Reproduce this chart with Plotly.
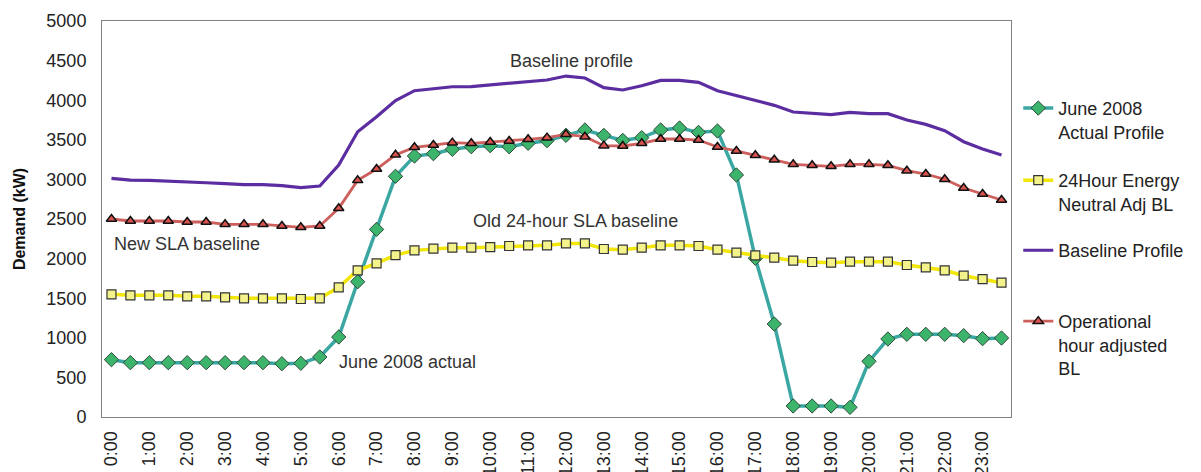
import plotly.graph_objects as go

# half-hour slots 0:00 .. 23:30
time_labels = [f"{h}:{m:02d}" for h in range(24) for m in (0, 30)]
hour_labels = [f"{h}:00" for h in range(24)]

june_2008_actual = [
    724, 686, 686, 686, 686, 686, 686, 686, 686, 673, 678, 758,
    1010, 1708, 2369, 3039, 3295, 3325, 3380, 3413, 3426, 3413, 3456, 3489,
    3556, 3624, 3556, 3493, 3527, 3624, 3649, 3594, 3611, 3056, 2004, 1174,
    139, 139, 139, 122, 703, 985, 1044, 1044, 1044, 1027, 989, 997,
]

energy_neutral_bl = [
    1549, 1536, 1536, 1536, 1524, 1524, 1511, 1498, 1498, 1498, 1490, 1498,
    1637, 1852, 1940, 2045, 2104, 2125, 2138, 2138, 2146, 2159, 2167, 2167,
    2192, 2192, 2121, 2113, 2138, 2167, 2167, 2159, 2113, 2075, 2041, 2012,
    1974, 1957, 1948, 1961, 1961, 1961, 1919, 1890, 1852, 1784, 1742, 1696,
]

baseline_profile = [
    3014, 2992, 2988, 2980, 2976, 2958, 2946, 2933, 2933, 2921, 2896, 2917,
    3182, 3602, 3792, 3995, 4120, 4150, 4170, 4172, 4192, 4213, 4230, 4255,
    4305, 4280, 4158, 4129, 4183, 4250, 4250, 4226, 4120, 4057, 4000, 3935,
    3851, 3830, 3817, 3847, 3830, 3830, 3750, 3695, 3615, 3476, 3384, 3308,
]

operational_bl = [
    2500, 2475, 2475, 2475, 2462, 2462, 2433, 2433, 2433, 2412, 2395, 2412,
    2635, 2988, 3131, 3310, 3405, 3434, 3464, 3456, 3472, 3485, 3506, 3527,
    3569, 3539, 3426, 3422, 3456, 3510, 3510, 3497, 3409, 3359, 3304, 3249,
    3190, 3178, 3165, 3190, 3190, 3178, 3110, 3068, 3001, 2891, 2816, 2740,
]

x = list(range(len(time_labels)))
FONT = "Liberation Sans, Arial, sans-serif"

fig = go.Figure()

fig.add_trace(go.Scatter(
    x=x, y=june_2008_actual, mode="lines+markers",
    name="June 2008<br>Actual Profile", legend="legend",
    line=dict(color="#3BA7A2", width=3.5),
    marker=dict(symbol="diamond", size=11, color="#3DB46C",
                line=dict(color="#2E4A3A", width=1)),
))
fig.add_trace(go.Scatter(
    x=x, y=energy_neutral_bl, mode="lines+markers",
    name="24Hour Energy<br>Neutral Adj BL", legend="legend2",
    line=dict(color="#F2E60A", width=3.5),
    marker=dict(symbol="square", size=9, color="#F4F28A",
                line=dict(color="#333333", width=1.2)),
))
fig.add_trace(go.Scatter(
    x=x, y=baseline_profile, mode="lines",
    name="Baseline Profile", legend="legend3",
    line=dict(color="#5B2DA0", width=3.2),
))
fig.add_trace(go.Scatter(
    x=x, y=operational_bl, mode="lines+markers",
    name="Operational<br>hour adjusted<br>BL", legend="legend4",
    line=dict(color="#CD5F5C", width=2.8),
    marker=dict(symbol="triangle-up", size=9, color="#D9534F",
                line=dict(color="#111111", width=1.5)),
))

annotations = [
    dict(text="Baseline profile", x=24.3, y=4495, xanchor="center"),
    dict(text="Old 24-hour SLA baseline", x=24.5, y=2470, xanchor="center"),
    dict(text="New SLA baseline", x=0.05, y=2190, xanchor="left"),
    dict(text="June 2008 actual", x=11.9, y=700, xanchor="left"),
]
for a in annotations:
    fig.add_annotation(xref="x", yref="y", showarrow=False, yanchor="middle",
                       font=dict(family=FONT, size=18, color="#333333"), **a)


def legend_box(ypos):
    return dict(x=1.008, y=ypos, xanchor="left", yanchor="top",
                valign="top", itemwidth=30, bgcolor="rgba(0,0,0,0)",
                font=dict(family=FONT, size=18, color="#222222"))


# the page body adds an 8px margin, so the figure is drawn 8px smaller
fig.update_layout(
    width=1193, height=464,
    margin=dict(l=94, r=177, t=13, b=55),
    paper_bgcolor="white", plot_bgcolor="white",
    font=dict(family=FONT, size=18, color="#222222"),
    showlegend=True,
    legend=legend_box(0.826),
    legend2=legend_box(0.644),
    legend3=legend_box(0.467),
    legend4=legend_box(0.288),
)

fig.update_xaxes(
    range=[-0.5, len(x) - 0.5], automargin=False,
    tickvals=x[::2], ticktext=hour_labels, tickangle=-90,
    showgrid=False, zeroline=False, ticks="",
    showline=True, linecolor="#808080", linewidth=1, mirror=True,
    ticklabelstandoff=6,
    tickfont=dict(family=FONT, size=18, color="#222222"),
)
fig.update_yaxes(
    range=[0, 5000], dtick=500, automargin=False,
    showgrid=False, zeroline=False, ticks="",
    showline=True, linecolor="#808080", linewidth=1, mirror=True,
    ticklabelstandoff=11,
    title=dict(text="<b>Demand (kW)</b>", standoff=16,
               font=dict(family=FONT, size=16, color="#111111")),
    tickfont=dict(family=FONT, size=18, color="#222222"),
)

fig.write_html("out.html")
